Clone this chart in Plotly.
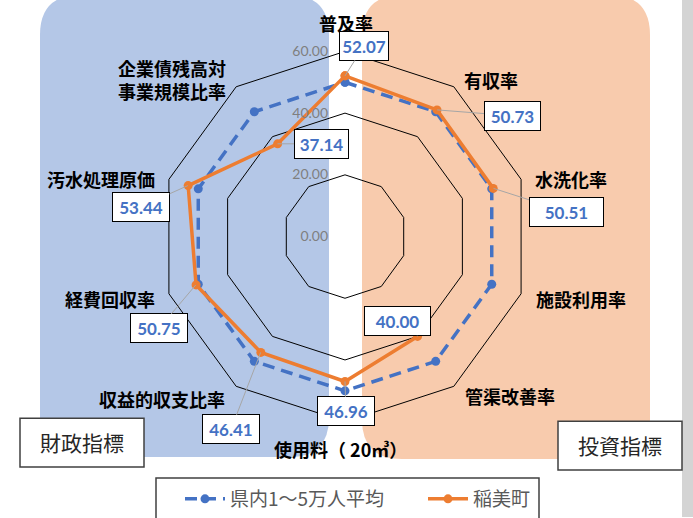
import math
import plotly.graph_objects as go

# ---------------- data ----------------
categories = ["普及率", "有収率", "水洗化率", "施設利用率", "管渠改善率",
              "使用料（ 20㎥）", "収益的収支比率", "経費回収率", "汚水処理原価",
              "企業債残高対事業規模比率"]
category_text = ["普及率", "有収率", "水洗化率", "施設利用率", "管渠改善率",
                 "使用料（ 20㎥）", "収益的収支比率", "経費回収率", "汚水処理原価",
                 "企業債残高対<br>事業規模比率"]
pref_avg = [50.0, 50.0, 50.0, 50.0, 50.0, 50.0, 50.0, 50.0, 50.0, 50.0]
inami = [52.07, 50.73, 50.51, None, 40.00, 46.96, 46.41, 50.75, 53.44, 37.14]
series_names = ["県内1～5万人平均", "稲美町"]
radial_tickvals = [0, 20, 40, 60]
radial_ticktext = ["0.00", "20.00", "40.00", "60.00"]

# ---------------- layout constants ----------------
W, H = 693, 518
CX, CY, R = 345.0, 237.0, 185.5
RMAX = 60.0
BLUE = "#4472C4"
ORANGE = "#ED7D31"
NBSP = "\u00a0"

# category label centres (px)
cat_label_pos = [(346, 23), (491, 80), (571, 179), (581, 300), (510, 397),
                 (340, 450), (162, 400), (110, 300), (101, 179), (172, 80)]
# data label box centres and widths (px)
data_label_pos = [(364, 46), (512, 116), (566, 212), None, (397, 322),
                  (346, 412), (231, 430), (159, 329), (141, 207), (321, 144)]
data_label_w = [44, 51, 69, None, 61, 52, 52, 52, 52, 49]


def px(x):
    return x / W


def py(y):
    return 1 - y / H


def rrect(x0, y0, x1, y1, r):
    pts = []
    pts.append(f"M{px(x0 + r)},{py(y0)}")
    pts.append(f"L{px(x1 - r)},{py(y0)}")
    pts.append(f"Q{px(x1)},{py(y0)} {px(x1)},{py(y0 + r)}")
    pts.append(f"L{px(x1)},{py(y1 - r)}")
    pts.append(f"Q{px(x1)},{py(y1)} {px(x1 - r)},{py(y1)}")
    pts.append(f"L{px(x0 + r)},{py(y1)}")
    pts.append(f"Q{px(x0)},{py(y1)} {px(x0)},{py(y1 - r)}")
    pts.append(f"L{px(x0)},{py(y0 + r)}")
    pts.append(f"Q{px(x0)},{py(y0)} {px(x0 + r)},{py(y0)}")
    pts.append("Z")
    return " ".join(pts)


def point_px(i, v):
    th = math.radians(i * 360.0 / len(categories))
    rr = R * v / RMAX
    return CX + rr * math.sin(th), CY - rr * math.cos(th)


# pad radial tick labels on the right so they sit left of the axis
tick_labels_padded = [t + NBSP * 4 for t in radial_ticktext]

fig = go.Figure()

theta_closed = categories + [categories[0]]
fig.add_trace(go.Scatterpolar(
    r=pref_avg + [pref_avg[0]], theta=theta_closed, name=series_names[0],
    mode="lines+markers",
    line=dict(color=BLUE, width=3.5, dash="12px,7px"),
    marker=dict(color=BLUE, size=9),
))
fig.add_trace(go.Scatterpolar(
    r=inami + [inami[0]], theta=theta_closed, name=series_names[1],
    mode="lines+markers", connectgaps=False,
    line=dict(color=ORANGE, width=3.5),
    marker=dict(color=ORANGE, size=9),
))

shapes = []
# background panels
shapes.append(dict(type="path", path=rrect(40, -5, 329, 458, 40), xref="paper", yref="paper",
                   fillcolor="#B4C7E7", line=dict(width=0), layer="below"))
shapes.append(dict(type="path", path=rrect(362, -5, 650, 460, 40), xref="paper", yref="paper",
                   fillcolor="#F8CBAD", line=dict(width=0), layer="below"))
# right grey strip
shapes.append(dict(type="rect", x0=px(682), x1=px(693), y0=py(518), y1=py(0), xref="paper", yref="paper",
                   fillcolor="#d4d4d4", line=dict(width=0), layer="below"))
# boxes
shapes.append(dict(type="rect", x0=px(20), x1=px(144), y0=py(468), y1=py(419), xref="paper", yref="paper",
                   fillcolor="white", line=dict(color="#404040", width=1.5), layer="below"))
shapes.append(dict(type="rect", x0=px(558), x1=px(682), y0=py(471), y1=py(422), xref="paper", yref="paper",
                   fillcolor="white", line=dict(color="#404040", width=1.5), layer="below"))
shapes.append(dict(type="rect", x0=px(156), x1=px(539), y0=py(540), y1=py(479), xref="paper", yref="paper",
                   fillcolor="white", line=dict(color="#404040", width=1.5), layer="below"))

annotations = []
for (x, y), t in zip(cat_label_pos, category_text):
    annotations.append(dict(x=px(x), y=py(y), xref="paper", yref="paper", text=t, showarrow=False,
                            font=dict(family="Noto Sans CJK JP", size=18, color="black", weight="bold"),
                            xanchor="center", yanchor="middle", align="left"))
for i, v in enumerate(inami):
    if v is None or data_label_pos[i] is None:
        continue
    x0, y0 = point_px(i, v)
    bx, by = data_label_pos[i]
    annotations.append(dict(x=px(x0), y=py(y0), xref="paper", yref="paper",
                            ax=bx - x0, ay=by - y0, axref="pixel", ayref="pixel",
                            text=f"<b>{v:.2f}</b>", showarrow=True, arrowhead=0, arrowwidth=1,
                            arrowcolor="#a6a6a6", standoff=0,
                            width=data_label_w[i], height=24,
                            font=dict(family="Lato", size=17, color=BLUE),
                            bgcolor="white", bordercolor="black", borderwidth=1, borderpad=2))
annotations.append(dict(x=px(82), y=py(443), xref="paper", yref="paper", text="財政指標", showarrow=False,
                        xanchor="center", yanchor="middle",
                        font=dict(family="Noto Sans CJK JP", size=21, color="#262626")))
annotations.append(dict(x=px(620), y=py(446), xref="paper", yref="paper", text="投資指標", showarrow=False,
                        xanchor="center", yanchor="middle",
                        font=dict(family="Noto Sans CJK JP", size=21, color="#262626")))

fig.update_layout(
    width=W, height=H,
    margin=dict(l=0, r=0, t=0, b=0),
    paper_bgcolor="white",
    plot_bgcolor="white",
    polar=dict(
        domain=dict(x=[px(CX - R), px(CX + R)], y=[py(CY + R), py(CY - R)]),
        bgcolor="rgba(0,0,0,0)",
        gridshape="linear",
        angularaxis=dict(rotation=90, direction="clockwise", showticklabels=False,
                         showgrid=False, ticks="", showline=True, linecolor="black", linewidth=1),
        radialaxis=dict(range=[0, RMAX], tickvals=radial_tickvals, ticktext=tick_labels_padded,
                        showline=False, ticks="", gridcolor="black", gridwidth=1, angle=90,
                        side="counterclockwise", tickangle=90,
                        tickfont=dict(family="Lato", size=14, color="#7f7f7f")),
    ),
    showlegend=True,
    legend=dict(orientation="h", x=px(180), y=py(500), xanchor="left", yanchor="middle",
                bgcolor="rgba(0,0,0,0)", borderwidth=0,
                font=dict(family="Noto Sans CJK JP", size=19, color="#595959"),
                itemwidth=40, entrywidth=188),
    shapes=shapes,
    annotations=annotations,
)

fig.write_html("out.html")
